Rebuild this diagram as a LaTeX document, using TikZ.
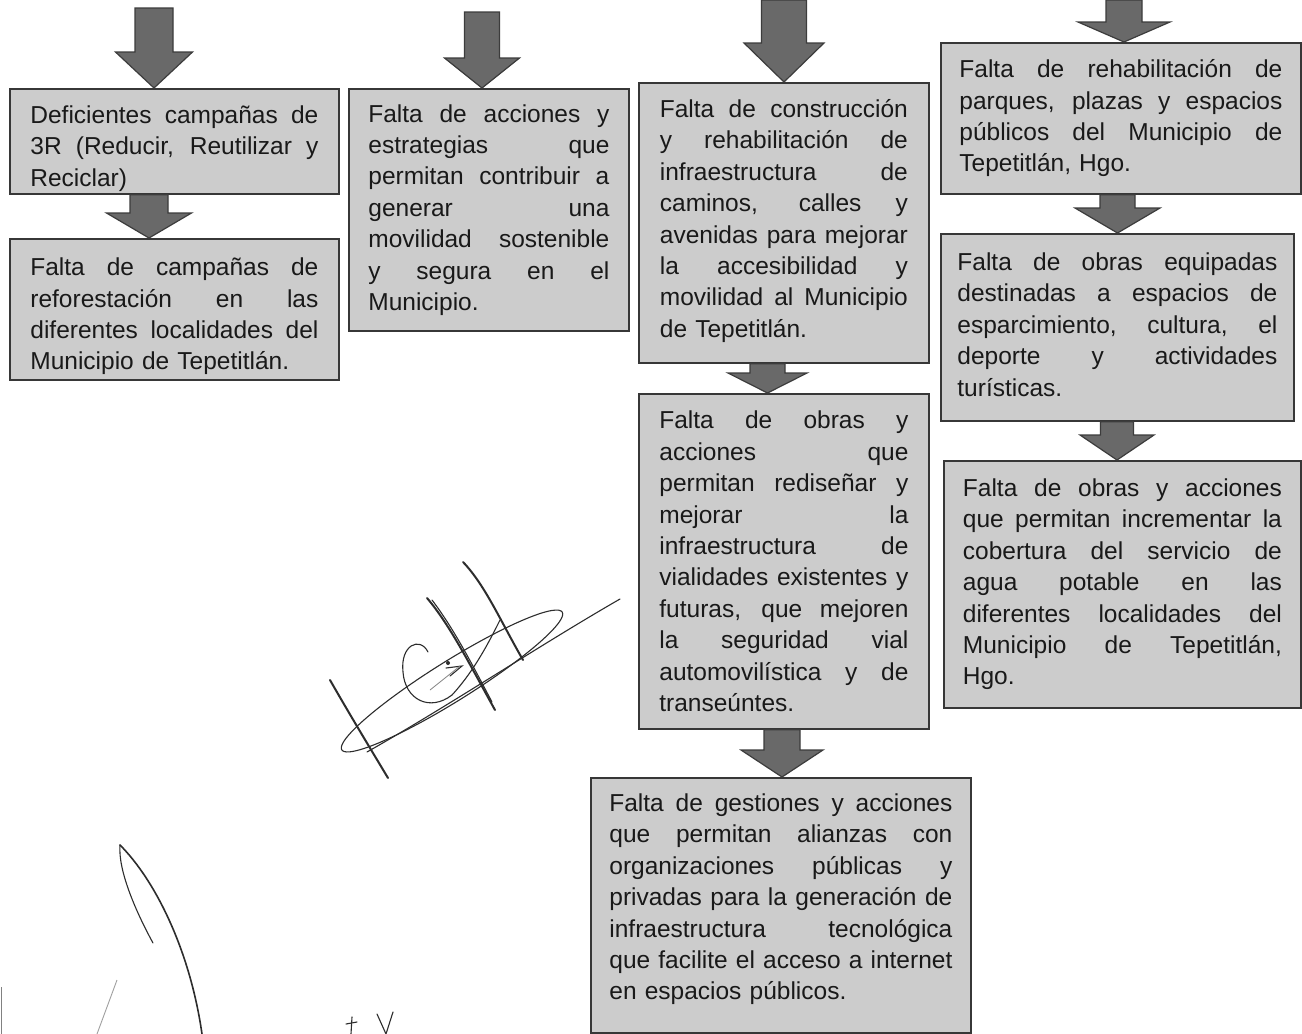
\documentclass[tikz,border=0pt]{standalone}
\usepackage{fontspec}
\setmainfont{Liberation Sans}
\usetikzlibrary{calc}
\setlength\parindent{0pt}
\definecolor{boxfill}{RGB}{204,204,204}
\definecolor{boxedge}{RGB}{55,55,55}
\definecolor{arrfill}{RGB}{105,105,105}
\definecolor{arredge}{RGB}{60,60,60}
\definecolor{ink}{RGB}{45,45,45}
\newcommand\jline[1]{\hbox to\jw{\spaceskip=0.278em plus 1fil\relax\xspaceskip=\spaceskip #1}\par}
\newcommand\lline[1]{\hbox{#1}\par}
\newcommand\uprule[1]{\rule{0pt}{#1}}
\newcommand\downrule[1]{\rule[-#1]{0pt}{0pt}}
% x centre, start point, tip point, shaft half width, head half width, head length
\newcommand\blockarr[6]{%
  \filldraw[barrow] let \p1=(#2), \p2=(#3) in
    ({(#1-#4)*1pt},\y1) -- ({(#1+#4)*1pt},\y1) -- ({(#1+#4)*1pt},{\y2+#6*1pt})
    -- ({(#1+#5)*1pt},{\y2+#6*1pt}) -- ({#1*1pt},\y2) -- ({(#1-#5)*1pt},{\y2+#6*1pt})
    -- ({(#1-#4)*1pt},{\y2+#6*1pt}) -- cycle;}
\tikzset{
  box/.style={draw=boxedge, fill=boxfill, line width=1.8pt, inner sep=0pt,
    anchor=north west, font=\fontsize{24.5}{31.4}\selectfont, text=black!90},
  tw/.style={text width=#1pt, execute at begin node={\def\jw{#1pt}}},
  barrow/.style={fill=arrfill, draw=arredge, line width=1.2pt, line join=miter},
  sig/.style={draw=ink, line width=2pt, line cap=round, line join=round},
  sigthin/.style={draw=ink, line width=1.1pt, line cap=round},
}
\begin{document}
\begin{tikzpicture}[x=1pt, y=-1pt]
\useasboundingbox (0,0) rectangle (1302,1034);
\fill[white] (0,0) rectangle (1302,1034);

\node[box, minimum width=329, minimum height=105, tw=288] (A) at (9,88) {%
\jline{\uprule{32pt}Deficientes campañas de}\jline{3R (Reducir, Reutilizar y}\lline{Reciclar)}};
\node[box, minimum width=329, minimum height=141, tw=288] (B) at (9,238) {%
\jline{\uprule{32pt}Falta de campañas de}\jline{reforestación en las}\jline{diferentes localidades del}\lline{Municipio de Tepetitlán.}};
\node[box, minimum width=280, minimum height=242, tw=241] (C) at (348,88) {%
\jline{Falta de acciones y}\jline{estrategias que}\jline{permitan contribuir a}\jline{generar una}\jline{movilidad sostenible}\jline{y segura en el}\lline{Municipio.}};
\node[box, minimum width=290, minimum height=280, tw=248] (D) at (638,82) {%
\jline{Falta de construcción}\jline{y rehabilitación de}\jline{infraestructura de}\jline{caminos, calles y}\jline{avenidas para mejorar}\jline{la accesibilidad y}\jline{movilidad al Municipio}\lline{de Tepetitlán.\downrule{9pt}}};
\node[box, minimum width=290, minimum height=335, tw=249] (E) at (638,393) {%
\jline{Falta de obras y}\jline{acciones que}\jline{permitan rediseñar y}\jline{mejorar la}\jline{infraestructura de}\jline{vialidades existentes y}\jline{futuras, que mejoren}\jline{la seguridad vial}\jline{automovilística y de}\lline{transeúntes.}};
\node[box, minimum width=380, minimum height=255, tw=343] (F) at (590,777) {%
\jline{Falta de gestiones y acciones}\jline{que permitan alianzas con}\jline{organizaciones públicas y}\jline{privadas para la generación de}\jline{infraestructura tecnológica}\jline{que facilite el acceso a internet}\lline{en espacios públicos.\downrule{17pt}}};
\node[box, minimum width=360, minimum height=151, tw=323] (G) at (940,42) {%
\jline{Falta de rehabilitación de}\jline{parques, plazas y espacios}\jline{públicos del Municipio de}\lline{Tepetitlán, Hgo.}};
\node[box, minimum width=353, minimum height=187, tw=320] (H) at (940,233) {%
\jline{Falta de obras equipadas}\jline{destinadas a espacios de}\jline{esparcimiento, cultura, el}\jline{deporte y actividades}\lline{turísticas.\downrule{6pt}}};
\node[box, minimum width=357, minimum height=247, tw=319] (I) at (943,460) {%
\jline{Falta de obras y acciones}\jline{que permitan incrementar la}\jline{cobertura del servicio de}\jline{agua potable en las}\jline{diferentes localidades del}\jline{Municipio de Tepetitlán,}\lline{Hgo.}};

\coordinate (tA) at (154,8);
\coordinate (tC) at (482,12);
\coordinate (tD) at (784,0);
\coordinate (tG) at (1124,0);

\blockarr{154}{tA}{A.north}{19}{38.5}{36}
\blockarr{149}{A.south}{B.north}{19}{42.5}{25}
\blockarr{482}{tC}{C.north}{17.5}{37.5}{30}
\blockarr{784}{tD}{D.north}{22.5}{40}{39}
\blockarr{767.5}{D.south}{E.north}{17.5}{39.5}{20}
\blockarr{782}{E.south}{F.north}{18}{41}{27}
\blockarr{1124}{tG}{G.north}{18}{46}{20}
\blockarr{1117.5}{G.south}{H.north}{17.5}{42.5}{25}
\blockarr{1117}{H.south}{I.north}{16.5}{37}{25}

% signature
\draw[sig] (330,680) .. controls (350,715) and (370,748) .. (388,778);
\draw[sigthin] plot[domain=0:360, samples=72, smooth]
  ({452+130*cos(\x)*0.848+20*sin(\x)*0.530},{681-130*cos(\x)*0.530+20*sin(\x)*0.848});
\draw[sigthin] (367,752) .. controls (450,705) and (540,645) .. (620,599);
\draw[sig] (427,598) .. controls (450,625) and (470,665) .. (495,710);
\draw[sigthin] (432,600) .. controls (455,630) and (475,670) .. (492,702);
\draw[sig] (463,562) .. controls (485,585) and (500,620) .. (523,660);
\draw[sigthin] (428,652) .. controls (420,636) and (400,645) .. (403,672)
  .. controls (405,700) and (430,712) .. (452,695)
  .. controls (475,670) and (490,640) .. (500,620);
\draw[sigthin] (446,668) -- (462,666) -- (450,676);
\fill[ink] (448,663) circle (2);
\draw[draw=ink!60, line width=0.8pt] (430,690) -- (460,666);

\draw[sig, line width=1.6pt] (120,845) .. controls (155,880) and (190,950) .. (202,1034);
\draw[sigthin] (120,845) .. controls (118,870) and (135,910) .. (153,943);
\draw[draw=ink!45, line width=0.9pt] (117,980) -- (97,1034);
\draw[draw=ink!60, line width=1pt] (1,987) -- (1,1034);
\draw[sigthin] (352,1017) -- (351,1034);
\draw[sigthin] (346,1024) -- (357,1022);
\draw[sigthin] (377,1014) -- (386,1034) -- (393,1012);
\end{tikzpicture}
\end{document}
